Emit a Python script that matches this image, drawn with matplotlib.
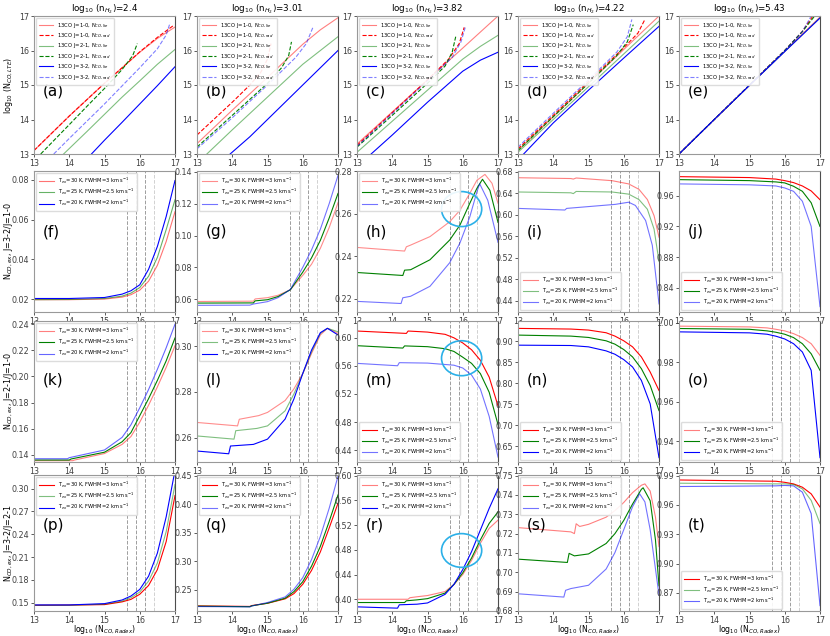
import matplotlib
matplotlib.use("Agg")
import matplotlib.pyplot as plt
from matplotlib.patches import Ellipse

# ---------------- row 1 : log10 N_CO,LTE vs log10 N_CO,Radex ----------------
titles = ["2.4", "3.01", "3.82", "4.22", "5.43"]

a_lte10_x = [13, 14, 15, 15.5, 16, 16.5, 17]
a_lte10_y = [13.1, 14.1, 15.05, 15.5, 15.95, 16.35, 16.68]
a_rad10_x = [13, 14, 15, 15.5, 16, 16.5, 16.95]
a_rad10_y = [13.1, 14.1, 15.05, 15.5, 15.96, 16.38, 16.72]
a_lte21_x = [13.84, 14.5, 15, 15.5, 16, 16.5, 17]
a_lte21_y = [13.0, 13.65, 14.15, 14.65, 15.12, 15.6, 16.03]
a_rad21_x = [13.19, 14, 14.5, 15, 15.5, 15.8, 15.93]
a_rad21_y = [13.0, 13.85, 14.38, 14.9, 15.45, 15.85, 16.2]
a_lte32_x = [14.63, 15, 15.5, 16, 16.5, 17]
a_lte32_y = [13.0, 13.4, 13.92, 14.45, 14.98, 15.53]
a_rad32_x = [13.56, 14, 15, 16, 16.5, 16.75, 16.86]
a_rad32_y = [13.0, 13.45, 14.45, 15.5, 16.05, 16.45, 16.8]

b_lte10_x = [13, 14, 15, 16, 16.5, 17]
b_lte10_y = [13.3, 14.27, 15.22, 16.18, 16.6, 16.95]
b_rad10_x = [13, 14, 14.5, 14.8, 15.0, 15.1]
b_rad10_y = [13.55, 14.5, 15.0, 15.35, 15.75, 16.2]
b_lte21_x = [13.28, 14, 15, 16, 16.5, 17]
b_lte21_y = [13.0, 13.7, 14.65, 15.6, 16.0, 16.4]
b_rad21_x = [13, 14, 15, 15.4, 15.6, 15.68]
b_rad21_y = [13.2, 14.12, 15.05, 15.5, 15.85, 16.25]
b_lte32_x = [13.94, 14.5, 15, 15.5, 16, 16.5, 17]
b_lte32_y = [13.0, 13.5, 14.0, 14.5, 15.0, 15.5, 16.0]
b_rad32_x = [13, 14, 15, 15.8, 16.1, 16.3]
b_rad32_y = [13.15, 14.05, 15.0, 15.8, 16.2, 16.7]

c_lte10_x = [13, 14, 15, 16, 17]
c_lte10_y = [13.29, 14.22, 15.15, 16.07, 17.0]
c_rad10_x = [13, 14, 15, 15.6, 15.9, 16.04]
c_rad10_y = [13.25, 14.2, 15.15, 15.75, 16.2, 16.67]
c_lte21_x = [13, 14, 15, 16, 16.5, 17]
c_lte21_y = [13.05, 13.95, 14.85, 15.75, 16.12, 16.44]
c_rad21_x = [13, 14, 15, 15.5, 15.7, 15.8]
c_rad21_y = [13.2, 14.12, 15.05, 15.55, 15.95, 16.4]
c_lte32_x = [13.4, 14, 15, 16, 16.5, 17]
c_lte32_y = [13.0, 13.55, 14.5, 15.4, 15.72, 15.95]
c_rad32_x = [13, 14, 15, 15.7, 15.95, 16.08]
c_rad32_y = [13.22, 14.17, 15.12, 15.8, 16.25, 16.7]

d_lte10_x = [13, 14, 15, 16, 17]
d_lte10_y = [13.1, 14.08, 15.05, 16.03, 17.0]
d_rad10_x = [13, 14, 15, 16, 16.4, 16.6]
d_rad10_y = [13.15, 14.12, 15.1, 16.08, 16.5, 16.9]
d_lte21_x = [13, 14, 15, 16, 17]
d_lte21_y = [13.05, 14.0, 14.95, 15.9, 16.85]
d_rad21_x = [13, 14, 15, 15.8, 16.1, 16.27]
d_rad21_y = [13.1, 14.08, 15.05, 15.85, 16.25, 16.75]
d_lte32_x = [13.16, 14, 15, 16, 17]
d_lte32_y = [13.0, 13.9, 14.85, 15.78, 16.7]
d_rad32_x = [13, 14, 15, 15.8, 16.1, 16.23]
d_rad32_y = [13.2, 14.18, 15.15, 15.95, 16.4, 16.9]

e_lte10_x = [13, 14, 15, 16, 17]
e_lte10_y = [13.0, 14.0, 14.99, 15.98, 16.97]
e_rad10_x = [13, 14, 15, 16, 16.5, 16.8]
e_rad10_y = [13.0, 14.0, 15.0, 16.0, 16.55, 17.0]
e_lte21_x = [13, 14, 15, 16, 17]
e_lte21_y = [13.0, 14.0, 14.99, 15.97, 16.95]
e_rad21_x = [13, 14, 15, 16, 16.5, 16.85]
e_rad21_y = [13.0, 14.0, 15.0, 16.0, 16.55, 17.0]
e_lte32_x = [13, 14, 15, 16, 17]
e_lte32_y = [13.0, 14.0, 14.99, 15.97, 16.94]
e_rad32_x = [13, 14, 15, 16, 16.5, 16.75]
e_rad32_y = [13.0, 14.0, 15.0, 16.0, 16.55, 17.0]

# ---------------- rows 2-4 : line ratios ----------------
f_red_x = [13, 14, 15, 15.5, 15.75, 16, 16.25, 16.5, 16.75, 17]
f_red_y = [0.0197, 0.0197, 0.0200, 0.0210, 0.0222, 0.0245, 0.029, 0.037, 0.049, 0.064]
f_green_x = f_red_x
f_green_y = [0.0197, 0.0198, 0.0203, 0.0215, 0.0230, 0.0258, 0.0315, 0.041, 0.055, 0.070]
f_blue_x = f_red_x
f_blue_y = [0.0203, 0.0203, 0.0208, 0.0225, 0.0242, 0.0272, 0.035, 0.0465, 0.0616, 0.0797]

g_red_x = [13, 14.6, 14.65, 15, 15.3, 15.65, 16, 16.25, 16.5, 16.75, 17]
g_red_y = [0.0586, 0.0588, 0.0602, 0.0610, 0.0625, 0.0660, 0.075, 0.082, 0.092, 0.105, 0.1206]
g_green_x = g_red_x
g_green_y = [0.0576, 0.0577, 0.0590, 0.0597, 0.0617, 0.0660, 0.077, 0.086, 0.097, 0.111, 0.1264]
g_blue_x = [13, 14.5, 14.6, 15, 15.3, 15.65, 16, 16.25, 16.5, 16.75, 17]
g_blue_y = [0.0562, 0.0563, 0.0570, 0.0585, 0.0610, 0.0662, 0.080, 0.091, 0.104, 0.120, 0.1377]

h_red_x = [13, 14.35, 14.4, 14.52, 15.07, 15.63, 15.92, 16.2, 16.4, 16.63, 16.83, 17]
h_red_y = [0.2442, 0.2425, 0.2445, 0.2453, 0.2493, 0.2563, 0.2617, 0.2697, 0.2758, 0.2786, 0.2744, 0.265]
h_green_x = [13, 14.3, 14.35, 14.52, 15.07, 15.63, 15.92, 16.2, 16.4, 16.56, 16.77, 17]
h_green_y = [0.2324, 0.2310, 0.2335, 0.2337, 0.2384, 0.2477, 0.2547, 0.265, 0.272, 0.2763, 0.2711, 0.256]
h_blue_x = [13, 14.25, 14.3, 14.52, 15.07, 15.63, 15.92, 16.2, 16.4, 16.48, 16.71, 17]
h_blue_y = [0.2188, 0.2178, 0.2205, 0.2212, 0.2259, 0.237, 0.2463, 0.2586, 0.2703, 0.2742, 0.2664, 0.2466]

i_red_x = [13, 14.5, 14.57, 14.65, 15.67, 16.14, 16.43, 16.67, 16.86, 17]
i_red_y = [0.6685, 0.667, 0.666, 0.668, 0.663, 0.657, 0.647, 0.628, 0.598, 0.558]
i_green_x = i_red_x
i_green_y = [0.642, 0.6405, 0.639, 0.643, 0.642, 0.638, 0.628, 0.61, 0.573, 0.513]
i_blue_x = [13, 14.33, 14.38, 15.76, 16.14, 16.33, 16.62, 16.81, 17]
i_blue_y = [0.6115, 0.6085, 0.6115, 0.619, 0.623, 0.617, 0.589, 0.543, 0.434]

j_red_x = [13, 15, 15.75, 16, 16.25, 16.5, 16.75, 17]
j_red_y = [0.9852, 0.984, 0.982, 0.980, 0.9774, 0.973, 0.9665, 0.955]
j_green_x = j_red_x
j_green_y = [0.9813, 0.980, 0.9783, 0.977, 0.9726, 0.966, 0.951, 0.92]
j_blue_x = j_red_x
j_blue_y = [0.9757, 0.9745, 0.973, 0.9704, 0.966, 0.953, 0.92, 0.815]

k_red_x = [13, 14.1, 14.15, 15, 15.5, 15.75, 16, 16.25, 16.5, 16.75, 17]
k_red_y = [0.1355, 0.1355, 0.136, 0.141, 0.148, 0.154, 0.165, 0.178, 0.192, 0.207, 0.2236]
k_green_x = [13, 14.0, 14.05, 15, 15.5, 15.75, 16, 16.25, 16.5, 16.75, 17]
k_green_y = [0.136, 0.136, 0.1368, 0.142, 0.150, 0.157, 0.170, 0.183, 0.197, 0.212, 0.2295]
k_blue_x = [13, 13.95, 14.0, 15, 15.5, 15.75, 16, 16.25, 16.5, 16.75, 17]
k_blue_y = [0.137, 0.137, 0.1378, 0.1437, 0.1534, 0.163, 0.176, 0.19, 0.2055, 0.222, 0.24]

l_red_x = [13, 14.15, 14.2, 14.75, 15, 15.5, 15.75, 16, 16.25, 16.5, 16.7, 17]
l_red_y = [0.2666, 0.2651, 0.268, 0.2696, 0.271, 0.2762, 0.2813, 0.288, 0.2968, 0.3049, 0.3078, 0.3056]
l_green_x = [13, 14.05, 14.1, 14.7, 15, 15.5, 15.75, 16, 16.25, 16.5, 16.7, 17]
l_green_y = [0.2607, 0.2593, 0.263, 0.264, 0.2651, 0.2717, 0.2791, 0.288, 0.2975, 0.3056, 0.3078, 0.3063]
l_blue_x = [13, 13.9, 13.95, 14.6, 15, 15.5, 15.75, 16, 16.25, 16.5, 16.7, 17]
l_blue_y = [0.2541, 0.2529, 0.2563, 0.257, 0.2593, 0.2681, 0.2769, 0.288, 0.2983, 0.3059, 0.3078, 0.3049]

m_red_x = [13, 14.4, 14.45, 15, 15.5, 15.75, 16, 16.25, 16.5, 16.75, 17]
m_red_y = [0.6097, 0.6063, 0.6097, 0.6082, 0.605, 0.60, 0.5927, 0.583, 0.568, 0.544, 0.503]
m_green_x = [13, 14.3, 14.35, 15, 15.5, 15.75, 16, 16.25, 16.5, 16.75, 17]
m_green_y = [0.5888, 0.5854, 0.5885, 0.5874, 0.5845, 0.5806, 0.5724, 0.5636, 0.549, 0.5224, 0.4763]
m_blue_x = [13, 14.15, 14.2, 15, 15.5, 15.75, 16, 16.25, 16.5, 16.75, 17]
m_blue_y = [0.5636, 0.5602, 0.5646, 0.564, 0.562, 0.561, 0.557, 0.547, 0.527, 0.488, 0.430]

n_red_x = [13, 14.5, 15, 15.5, 15.75, 16, 16.25, 16.5, 16.75, 17]
n_red_y = [0.9304, 0.9288, 0.9264, 0.92, 0.912, 0.9008, 0.8864, 0.8624, 0.8264, 0.7824]
n_green_x = n_red_x
n_green_y = [0.9144, 0.912, 0.9088, 0.9008, 0.8928, 0.88, 0.8624, 0.8344, 0.7944, 0.7344]
n_blue_x = n_red_x
n_blue_y = [0.8904, 0.8896, 0.8864, 0.8768, 0.8688, 0.856, 0.8384, 0.8064, 0.7504, 0.6224]

o_red_x = [13, 15, 15.5, 15.75, 16, 16.25, 16.5, 16.75, 17]
o_red_y = [0.9983, 0.9979, 0.9974, 0.9967, 0.9959, 0.9945, 0.9925, 0.9894, 0.9835]
o_green_x = o_red_x
o_green_y = [0.9971, 0.9967, 0.9959, 0.9952, 0.9942, 0.9925, 0.9894, 0.9843, 0.9759]
o_blue_x = o_red_x
o_blue_y = [0.9954, 0.9949, 0.9942, 0.9932, 0.9918, 0.9894, 0.9852, 0.9759, 0.9317]

p_red_x = [13, 14, 15, 15.5, 15.75, 16, 16.25, 16.5, 16.75, 17]
p_red_y = [0.1465, 0.1468, 0.1474, 0.151, 0.1543, 0.161, 0.1726, 0.1935, 0.2304, 0.2909]
p_green_x = p_red_x
p_green_y = [0.1465, 0.1465, 0.148, 0.152, 0.1565, 0.164, 0.1783, 0.2022, 0.2435, 0.3054]
p_blue_x = p_red_x
p_blue_y = [0.147, 0.147, 0.1487, 0.1535, 0.1587, 0.1674, 0.1848, 0.2152, 0.263, 0.324]

q_red_x = [13, 14.5, 14.55, 15, 15.5, 15.75, 16, 16.25, 16.5, 16.75, 17]
q_red_y = [0.2215, 0.2205, 0.222, 0.226, 0.2338, 0.243, 0.2593, 0.2837, 0.3162, 0.358, 0.4015]
q_green_x = q_red_x
q_green_y = [0.221, 0.22, 0.2215, 0.2262, 0.2349, 0.2465, 0.2639, 0.2912, 0.326, 0.3695, 0.416]
q_blue_x = q_red_x
q_blue_y = [0.2203, 0.2197, 0.2212, 0.2274, 0.2372, 0.2506, 0.2709, 0.3028, 0.3434, 0.3927, 0.449]

r_red_x = [13, 14.45, 14.5, 14.7, 15, 15.5, 15.75, 16, 16.25, 16.5, 16.75, 17]
r_red_y = [0.40, 0.40, 0.4025, 0.404, 0.406, 0.4125, 0.424, 0.44, 0.4629, 0.4907, 0.5147, 0.528]
r_green_x = [13, 14.35, 14.4, 14.7, 15, 15.5, 15.75, 16, 16.25, 16.5, 16.75, 17]
r_green_y = [0.3947, 0.3947, 0.3975, 0.399, 0.401, 0.41, 0.424, 0.4427, 0.4667, 0.496, 0.5227, 0.5413]
r_blue_x = [13, 14.15, 14.2, 14.7, 15, 15.5, 15.75, 16, 16.25, 16.5, 16.75, 17]
r_blue_y = [0.3877, 0.3856, 0.391, 0.392, 0.394, 0.408, 0.424, 0.448, 0.477, 0.512, 0.547, 0.5787]

s_red_x = [13, 14.5, 14.6, 14.65, 14.75, 15, 15.5, 15.75, 16, 16.25, 16.5, 16.6, 16.75, 16.9, 17]
s_red_y = [0.7231, 0.7209, 0.7200, 0.7251, 0.7237, 0.7248, 0.7285, 0.7319, 0.7361, 0.7412, 0.745,
           0.7457, 0.742, 0.7285, 0.7133]
s_green_x = [13, 14.4, 14.45, 14.6, 15, 15.5, 15.75, 16, 16.25, 16.5, 16.55, 16.75, 16.9, 17]
s_green_y = [0.7068, 0.7051, 0.7098, 0.7085, 0.7095, 0.7149, 0.72, 0.7268, 0.7353, 0.7429, 0.7437,
             0.737, 0.7167, 0.693]
s_blue_x = [13, 14.3, 14.35, 14.5, 15, 15.5, 15.75, 16, 16.25, 16.45, 16.6, 16.75, 16.9, 17]
s_blue_y = [0.6889, 0.6872, 0.6907, 0.6916, 0.6933, 0.7017, 0.7102, 0.722, 0.7339, 0.7406, 0.7364,
            0.722, 0.7017, 0.6882]

t_red_x = [13, 15.75, 16, 16.25, 16.5, 16.75, 17]
t_red_y = [0.9856, 0.9843, 0.9832, 0.9816, 0.9782, 0.9714, 0.9579]
t_green_x = t_red_x
t_green_y = [0.9823, 0.9816, 0.9816, 0.981, 0.9765, 0.9647, 0.941]
t_blue_x = t_red_x
t_blue_y = [0.9789, 0.9796, 0.98, 0.9796, 0.9731, 0.9512, 0.857]

vlines = [15.65, 15.9, 16.15, 16.4]

row1_labels = ["13CO J=1-0, N$_{CO,lte}$", "13CO J=1-0, N$_{CO,rad}$",
               "13CO J=2-1, N$_{CO,lte}$", "13CO J=2-1, N$_{CO,rad}$",
               "13CO J=3-2, N$_{CO,lte}$", "13CO J=3-2, N$_{CO,rad}$"]
ratio_labels = ["T$_{ex}$=30 K, FWHM=3 km s$^{-1}$",
                "T$_{ex}$=25 K, FWHM=2.5 km s$^{-1}$",
                "T$_{ex}$=20 K, FWHM=2 km s$^{-1}$"]
row_ylabels = ["log$_{10}$ (N$_{CO,LTE}$)",
               "N$_{CO,ex}$, J=3-2/J=1-0",
               "N$_{CO,ex}$, J=2-1/J=1-0",
               "N$_{CO,ex}$, J=3-2/J=2-1"]

# ---------------- layout (pixels) ----------------
W, H = 830, 636
col_left = [34, 197, 357, 518, 679]
col_w = 141
row_top = [16, 171, 321, 475]
row_bot = [154, 312, 462, 611]

fig = plt.figure(figsize=(W / 100, H / 100), dpi=100)


def make_ax(r, c):
    l, t, b = col_left[c], row_top[r], row_bot[r]
    ax = fig.add_axes([l / W, 1 - b / H, col_w / W, (b - t) / H])
    for s in ax.spines.values():
        s.set_color("0.6")
        s.set_linewidth(0.8)
    ax.spines["right"].set_color("0.3")
    ax.tick_params(labelsize=5.8, length=2.2, width=0.6, colors="0.25", pad=1.3)
    ax.set_xlim(13, 17)
    ax.set_xticks([13, 14, 15, 16, 17])
    return ax


def set_row_ylabel(ax, text):
    # right edge of the rotated label sits about 15 px from the figure edge
    ax.set_ylabel(text, fontsize=5.8)
    ax.yaxis.set_label_coords(-(col_left[0] - 15) / col_w, 0.5)


# row 1
row1_sets = [
    [(a_lte10_x, a_lte10_y), (a_rad10_x, a_rad10_y), (a_lte21_x, a_lte21_y),
     (a_rad21_x, a_rad21_y), (a_lte32_x, a_lte32_y), (a_rad32_x, a_rad32_y)],
    [(b_lte10_x, b_lte10_y), (b_rad10_x, b_rad10_y), (b_lte21_x, b_lte21_y),
     (b_rad21_x, b_rad21_y), (b_lte32_x, b_lte32_y), (b_rad32_x, b_rad32_y)],
    [(c_lte10_x, c_lte10_y), (c_rad10_x, c_rad10_y), (c_lte21_x, c_lte21_y),
     (c_rad21_x, c_rad21_y), (c_lte32_x, c_lte32_y), (c_rad32_x, c_rad32_y)],
    [(d_lte10_x, d_lte10_y), (d_rad10_x, d_rad10_y), (d_lte21_x, d_lte21_y),
     (d_rad21_x, d_rad21_y), (d_lte32_x, d_lte32_y), (d_rad32_x, d_rad32_y)],
    [(e_lte10_x, e_lte10_y), (e_rad10_x, e_rad10_y), (e_lte21_x, e_lte21_y),
     (e_rad21_x, e_rad21_y), (e_lte32_x, e_lte32_y), (e_rad32_x, e_rad32_y)],
]
row1_colors = ["red", "red", "green", "green", "blue", "blue"]
row1_styles = ["-", "--", "-", "--", "-", "--"]
row1_alpha = [0.5, 1, 0.5, 1, 1, 0.5]

for c, curves in enumerate(row1_sets):
    ax = make_ax(0, c)
    for k, (x, y) in enumerate(curves):
        ax.plot(x, y, color=row1_colors[k], ls=row1_styles[k], lw=0.8,
                alpha=row1_alpha[k], label=row1_labels[k])
    ax.set_ylim(13, 17)
    ax.set_yticks([13, 14, 15, 16, 17])
    ax.set_title("log$_{10}$ (n$_{H_2}$)=" + titles[c], fontsize=6.3, pad=2)
    ax.legend(loc="upper left", fontsize=3.8, handlelength=2.6, labelspacing=0.38,
              borderpad=0.6, borderaxespad=0.4, framealpha=0.9, edgecolor="0.85")
    ax.text(0.06, 0.46, "(" + "abcde"[c] + ")", transform=ax.transAxes,
            fontsize=11, va="center")
    if c == 0:
        set_row_ylabel(ax, row_ylabels[0])

# rows 2-4
ratio_sets = [
    [(f_red_x, f_red_y), (f_green_x, f_green_y), (f_blue_x, f_blue_y)],
    [(g_red_x, g_red_y), (g_green_x, g_green_y), (g_blue_x, g_blue_y)],
    [(h_red_x, h_red_y), (h_green_x, h_green_y), (h_blue_x, h_blue_y)],
    [(i_red_x, i_red_y), (i_green_x, i_green_y), (i_blue_x, i_blue_y)],
    [(j_red_x, j_red_y), (j_green_x, j_green_y), (j_blue_x, j_blue_y)],
    [(k_red_x, k_red_y), (k_green_x, k_green_y), (k_blue_x, k_blue_y)],
    [(l_red_x, l_red_y), (l_green_x, l_green_y), (l_blue_x, l_blue_y)],
    [(m_red_x, m_red_y), (m_green_x, m_green_y), (m_blue_x, m_blue_y)],
    [(n_red_x, n_red_y), (n_green_x, n_green_y), (n_blue_x, n_blue_y)],
    [(o_red_x, o_red_y), (o_green_x, o_green_y), (o_blue_x, o_blue_y)],
    [(p_red_x, p_red_y), (p_green_x, p_green_y), (p_blue_x, p_blue_y)],
    [(q_red_x, q_red_y), (q_green_x, q_green_y), (q_blue_x, q_blue_y)],
    [(r_red_x, r_red_y), (r_green_x, r_green_y), (r_blue_x, r_blue_y)],
    [(s_red_x, s_red_y), (s_green_x, s_green_y), (s_blue_x, s_blue_y)],
    [(t_red_x, t_red_y), (t_green_x, t_green_y), (t_blue_x, t_blue_y)],
]
ylims = [(0.0135, 0.0845), (0.052, 0.1405), (0.2138, 0.2802), (0.419, 0.681), (0.808, 0.9926),
         (0.1345, 0.2425), (0.2493, 0.311), (0.423, 0.624), (0.612, 0.948), (0.9295, 1.0009),
         (0.139, 0.318), (0.2125, 0.451), (0.381, 0.601), (0.6809, 0.7503), (0.8515, 0.9907)]
yticks = [[0.02, 0.04, 0.06, 0.08], [0.06, 0.08, 0.10, 0.12, 0.14], [0.22, 0.24, 0.26, 0.28],
          [0.44, 0.48, 0.52, 0.56, 0.60, 0.64, 0.68], [0.84, 0.88, 0.92, 0.96],
          [0.14, 0.16, 0.18, 0.20, 0.22, 0.24], [0.26, 0.28, 0.30], [0.44, 0.48, 0.52, 0.56, 0.60],
          [0.65, 0.70, 0.75, 0.80, 0.85, 0.90], [0.94, 0.96, 0.98, 1.00],
          [0.15, 0.18, 0.21, 0.24, 0.27, 0.30], [0.25, 0.30, 0.35, 0.40, 0.45],
          [0.40, 0.44, 0.48, 0.52, 0.56, 0.60], [0.68, 0.69, 0.70, 0.71, 0.72, 0.73, 0.74, 0.75],
          [0.87, 0.90, 0.93, 0.96, 0.99]]
legend_loc = ["upper left", "upper left", "upper left", "lower left", "lower left",
              "upper left", "upper left", "lower left", "lower left", "lower left",
              "upper left", "upper left", "upper left", "upper left", "lower left"]
alphas = [(0.55, 0.6, 1), (0.45, 1, 0.55), (0.45, 1, 0.55), (0.5, 0.5, 0.55), (1, 1, 0.55),
          (0.5, 1, 0.6), (0.45, 0.5, 1), (1, 1, 0.55), (1, 1, 1), (0.5, 1, 1),
          (1, 0.5, 1), (1, 1, 0.55), (0.5, 1, 1), (0.5, 1, 0.55), (1, 0.5, 0.6)]
label_y = [0.57, 0.58, 0.63]
ratio_colors = ["red", "green", "blue"]
ellipse_y = {2: 0.73, 7: 0.736, 12: 0.445}

for idx, curves in enumerate(ratio_sets):
    r, c = idx // 5 + 1, idx % 5
    ax = make_ax(r, c)
    for v_i, v in enumerate(vlines):
        ax.axvline(v, color="0.55", ls="--", lw=0.7, alpha=0.4 if v_i == 3 else 0.85)
    for k, (x, y) in enumerate(curves):
        ax.plot(x, y, color=ratio_colors[k], lw=0.8, alpha=alphas[idx][k], label=ratio_labels[k])
    ax.set_ylim(*ylims[idx])
    ax.set_yticks(yticks[idx])
    ax.yaxis.set_major_formatter(matplotlib.ticker.FormatStrFormatter("%.2f"))
    ax.legend(loc=legend_loc[idx], fontsize=3.7, handlelength=3.0, labelspacing=0.25,
              borderpad=0.5, borderaxespad=0.4, framealpha=0.9, edgecolor="0.85")
    ax.text(0.06, label_y[r - 1], "(" + "fghijklmnopqrst"[idx] + ")",
            transform=ax.transAxes, fontsize=11, va="center")
    if idx in ellipse_y:
        ax.add_patch(Ellipse((0.742, ellipse_y[idx]), 0.285, 0.248, transform=ax.transAxes,
                             fill=False, edgecolor="#2bb0e8", lw=1.2, zorder=5))
    if c == 0:
        set_row_ylabel(ax, row_ylabels[r])
    if r == 3:
        ax.set_xlabel("log$_{10}$ (N$_{CO,Radex}$)", fontsize=5.6)
        ax.xaxis.set_label_coords(0.5, -(623.5 - row_bot[3]) / (row_bot[3] - row_top[3]))

fig.savefig("out.png", dpi=100)
